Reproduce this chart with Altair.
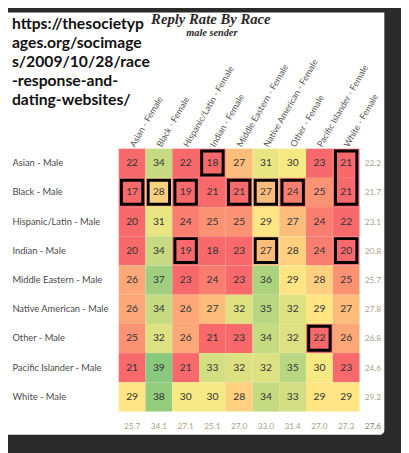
import altair as alt
import pandas as pd

female = ["Asian - Female", "Black - Female", "Hispanic/Latin - Female", "Indian - Female",
          "Middle Eastern - Female", "Native American - Female", "Other - Female",
          "Pacific Islander - Female", "White - Female"]
male = ["Asian - Male", "Black - Male", "Hispanic/Latin - Male", "Indian - Male",
        "Middle Eastern - Male", "Native American - Male", "Other - Male",
        "Pacific Islander - Male", "White - Male"]

rates = [
    [22, 34, 22, 18, 27, 31, 30, 23, 21],
    [17, 28, 19, 21, 21, 27, 24, 25, 21],
    [20, 31, 24, 25, 25, 29, 27, 24, 22],
    [20, 34, 19, 18, 23, 27, 28, 24, 20],
    [26, 37, 23, 24, 23, 36, 29, 28, 25],
    [26, 34, 26, 27, 32, 35, 32, 29, 27],
    [25, 32, 26, 21, 23, 34, 32, 22, 26],
    [21, 39, 21, 33, 32, 32, 35, 30, 23],
    [29, 38, 30, 30, 28, 34, 33, 29, 29],
]
row_avg = [22.2, 21.7, 23.1, 20.8, 25.7, 27.8, 26.8, 24.6, 29.2]
col_avg = [25.7, 34.1, 27.1, 25.1, 27.0, 33.0, 31.4, 27.0, 27.3]
overall_avg = 27.6

# highlighted boxes: (top row, bottom row, column)
boxed = [
    ("Asian - Male", "Asian - Male", "Indian - Female"),
    ("Asian - Male", "Black - Male", "White - Female"),
    ("Black - Male", "Black - Male", "Asian - Female"),
    ("Black - Male", "Black - Male", "Black - Female"),
    ("Black - Male", "Black - Male", "Hispanic/Latin - Female"),
    ("Black - Male", "Black - Male", "Middle Eastern - Female"),
    ("Black - Male", "Black - Male", "Native American - Female"),
    ("Black - Male", "Black - Male", "Other - Female"),
    ("Indian - Male", "Indian - Male", "Hispanic/Latin - Female"),
    ("Indian - Male", "Indian - Male", "Native American - Female"),
    ("Indian - Male", "Indian - Male", "White - Female"),
    ("Other - Male", "Other - Male", "Pacific Islander - Female"),
]

url_lines = ["https://thesocietyp", "ages.org/socimage", "s/2009/10/28/race",
             "-response-and-", "dating-websites/"]
title = "Reply Rate By Race"
subtitle = "male sender"

AVG = "Average"
xdom = female + [AVG]
ydom = male + [AVG]

cells = pd.DataFrame(
    [{"male": m, "female": f, "rate": rates[i][j]}
     for i, m in enumerate(male) for j, f in enumerate(female)]
)
avgs = pd.DataFrame(
    [{"male": m, "female": AVG, "v": row_avg[i], "corner": 0} for i, m in enumerate(male)]
    + [{"male": AVG, "female": f, "v": col_avg[j], "corner": 0} for j, f in enumerate(female)]
    + [{"male": AVG, "female": AVG, "v": overall_avg, "corner": 1}]
)
boxes = pd.DataFrame([{"r1": a, "r2": b, "c": c} for a, b, c in boxed])
one = pd.DataFrame({"a": [0]})

FONT = "Lato"

xscale = alt.Scale(domain=xdom, paddingInner=0, paddingOuter=0)
yscale = alt.Scale(domain=ydom, paddingInner=0, paddingOuter=0)

xaxis = alt.Axis(orient="top", values=female, labelAngle=300, labelAlign="left",
                 labelBaseline="middle", labelPadding=3, ticks=False, domain=False,
                 labelFont=FONT, labelFontSize=9, labelColor="#555555", title=None,
                 labelOverlap=False, labelLimit=200, grid=False)
yaxis = alt.Axis(orient="left", values=male, labelAlign="left", labelPadding=109,
                 ticks=False, domain=False, labelFont=FONT, labelFontSize=9.5,
                 labelColor="#4a4a4a", title=None, labelLimit=200, grid=False)

card = alt.Chart(one).mark_rect(color="white", cornerRadiusBottomRight=5).encode(
    x=alt.value(-113), x2=alt.value(271), y=alt.value(-139), y2=alt.value(292)
)

heat = alt.Chart(cells).mark_rect().encode(
    x=alt.X("female:N", scale=xscale, axis=xaxis, sort=xdom),
    y=alt.Y("male:N", scale=yscale, axis=yaxis, sort=ydom),
    color=alt.Color("rate:Q", legend=None,
                    scale=alt.Scale(domain=[23, 29.3, 42],
                                    range=["#F8696B", "#FFEB84", "#63BE7B"],
                                    clamp=True, interpolate="rgb")),
)

nums = alt.Chart(cells).mark_text(font=FONT, fontSize=10.5, color="#333333").encode(
    x=alt.X("female:N", sort=xdom),
    y=alt.Y("male:N", sort=ydom),
    text=alt.Text("rate:Q"),
)

avg_text = alt.Chart(avgs).mark_text(font=FONT, fontSize=8.5).encode(
    x=alt.X("female:N", sort=xdom),
    y=alt.Y("male:N", sort=ydom),
    text=alt.Text("v:Q", format=".1f"),
    color=alt.Color("corner:N", legend=None,
                    scale=alt.Scale(domain=[0, 1], range=["#aa9f85", "#8a7e64"])),
)

box_marks = alt.Chart(boxes).mark_rect(fillOpacity=0, stroke="black", strokeWidth=3).encode(
    x=alt.X("c:N", sort=xdom, bandPosition=0.1),
    x2=alt.X2("c:N", bandPosition=0.9),
    y=alt.Y("r1:N", sort=ydom, bandPosition=0.08),
    y2=alt.Y2("r2:N", bandPosition=0.9),
)

url = alt.Chart(one).mark_text(
    text=url_lines, font=FONT, fontSize=16, fontWeight="bold", color="#111111",
    align="left", baseline="alphabetic", lineHeight=19.3
).encode(x=alt.value(-109), y=alt.value(-122))

title_m = alt.Chart(one).mark_text(
    text=title, font="Liberation Serif", fontSize=15, fontWeight="bold",
    fontStyle="italic", color="#2a2a2a", align="center", baseline="alphabetic"
).encode(x=alt.value(94), y=alt.value(-127))

subtitle_m = alt.Chart(one).mark_text(
    text=subtitle, font="Liberation Serif", fontSize=10.5, fontWeight="bold",
    fontStyle="italic", color="#2a2a2a", align="center", baseline="alphabetic"
).encode(x=alt.value(95), y=alt.value(-115))

chart = alt.layer(card, heat, nums, avg_text, box_marks, url, title_m, subtitle_m).properties(
    width=273, height=298,
    padding={"left": 113, "top": 139, "right": 15, "bottom": 8},
    autosize=alt.AutoSizeParams(type="none"),
    background="#2b2b2b",
).configure_view(stroke=None)

chart.save("out.html", embed_options={"renderer": "svg", "actions": False})
